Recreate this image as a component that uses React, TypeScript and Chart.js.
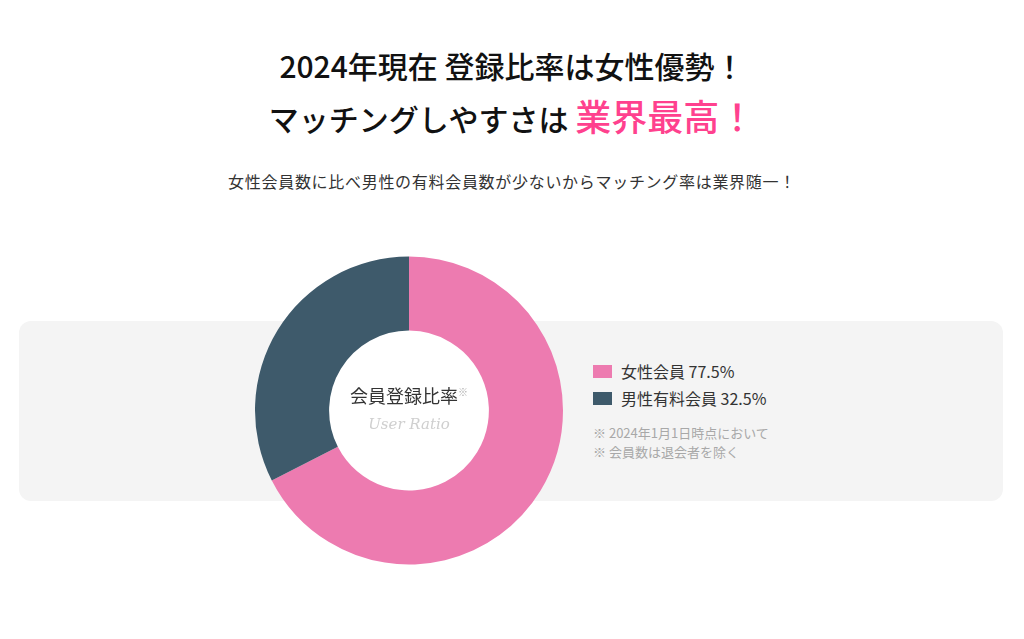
import React, { useEffect, useRef } from "react";
import { Chart, registerables } from "chart.js";

Chart.register(...registerables);

const categories = ["女性会員", "男性有料会員"];
const shareValues = [67.5, 32.5];
const legendValueLabels = ["77.5%", "32.5%"];
const sliceColors = ["#ED7BB0", "#3E5A6B"];
const titleLine1 = "2024年現在 登録比率は女性優勢！";
const titleLine2a = "マッチングしやすさは ";
const titleLine2b = "業界最高！";
const subtitle = "女性会員数に比べ男性の有料会員数が少ないからマッチング率は業界随一！";
const centerLabel = "会員登録比率";
const centerSub = "User Ratio";
const notes = ["※ 2024年1月1日時点において", "※ 会員数は退会者を除く"];

const JP = '"Noto Sans CJK JP", "Noto Sans", sans-serif';

const holeFill = {
  id: "holeFill",
  beforeDatasetsDraw(chart: any) {
    const meta = chart.getDatasetMeta(0);
    const arc = meta.data[0];
    if (!arc) return;
    const { x, y, innerRadius } = arc.getProps(["x", "y", "innerRadius"], true);
    const ctx = chart.ctx;
    ctx.save();
    ctx.fillStyle = "#FFFFFF";
    ctx.beginPath();
    ctx.arc(x, y, innerRadius + 1, 0, Math.PI * 2);
    ctx.fill();
    ctx.restore();
  },
};

export default function App() {
  const ref = useRef<HTMLCanvasElement | null>(null);

  useEffect(() => {
    if (!ref.current) return;
    const chart = new Chart(ref.current, {
      type: "doughnut",
      data: {
        labels: categories,
        datasets: [
          {
            data: shareValues,
            backgroundColor: sliceColors,
            borderWidth: 0,
            hoverOffset: 0,
          },
        ],
      },
      options: {
        animation: false,
        responsive: false,
        maintainAspectRatio: false,
        radius: 154,
        cutout: 83,
        layout: { padding: 0 },
        plugins: {
          legend: { display: false },
          tooltip: { enabled: false },
          title: { display: false },
        },
      },
      plugins: [holeFill],
    });
    return () => chart.destroy();
  }, []);

  return (
    <div
      style={{
        position: "absolute",
        left: 0,
        top: 0,
        width: 1024,
        height: 639,
        background: "#fff",
        fontFamily: JP,
        overflow: "hidden",
      }}
    >
      <div
        style={{
          position: "absolute",
          left: 0,
          width: 1024,
          top: 48,
          textAlign: "center",
          fontSize: 30,
          lineHeight: "34px",
          fontWeight: 500,
          color: "#111",
        }}
      >
        {titleLine1}
      </div>
      <div
        style={{
          position: "absolute",
          left: 0,
          width: 1024,
          top: 95,
          textAlign: "center",
          fontSize: 30,
          lineHeight: "40px",
          fontWeight: 500,
          color: "#111",
          whiteSpace: "pre",
        }}
      >
        {titleLine2a}
        <span style={{ color: "#FF418E", fontSize: 36 }}>{titleLine2b}</span>
      </div>
      <div
        style={{
          position: "absolute",
          left: 0,
          width: 1024,
          top: 171,
          textAlign: "center",
          fontSize: 16,
          lineHeight: "20px",
          letterSpacing: "0.7px",
          color: "#333",
        }}
      >
        {subtitle}
      </div>

      <div
        style={{
          position: "absolute",
          left: 19,
          top: 321,
          width: 984,
          height: 180,
          background: "#F4F4F4",
          borderRadius: 12,
        }}
      />

      <canvas
        ref={ref}
        width={320}
        height={321}
        style={{ position: "absolute", left: 249, top: 250, width: 320, height: 321 }}
      />

      <div
        style={{
          position: "absolute",
          left: 309,
          width: 200,
          top: 383,
          textAlign: "center",
          fontSize: 18,
          lineHeight: "24px",
          color: "#333",
        }}
      >
        {centerLabel}
        <span style={{ position: "relative", top: -7, fontSize: 10, color: "#aaa" }}>※</span>
      </div>
      <div
        style={{
          position: "absolute",
          left: 309,
          width: 200,
          top: 413,
          textAlign: "center",
          fontSize: 15,
          lineHeight: "22px",
          fontStyle: "italic",
          fontFamily: '"DejaVu Serif", serif',
          color: "#CFCFCF",
        }}
      >
        {centerSub}
      </div>

      {categories.map((c, i) => (
        <div
          key={c}
          style={{
            position: "absolute",
            left: 593,
            top: 361 + i * 27,
            height: 20,
            display: "flex",
            alignItems: "center",
            fontSize: 16,
            color: "#333",
            whiteSpace: "nowrap",
          }}
        >
          <span
            style={{
              display: "inline-block",
              width: 19,
              height: 13,
              background: sliceColors[i],
              marginRight: 9,
            }}
          />
          {c} {legendValueLabels[i]}
        </div>
      ))}
      {notes.map((n, i) => (
        <div
          key={n}
          style={{
            position: "absolute",
            left: 593,
            top: 425 + i * 19,
            fontSize: 13,
            lineHeight: "16px",
            color: "#A8A8A8",
            whiteSpace: "nowrap",
          }}
        >
          {n}
        </div>
      ))}
    </div>
  );
}
